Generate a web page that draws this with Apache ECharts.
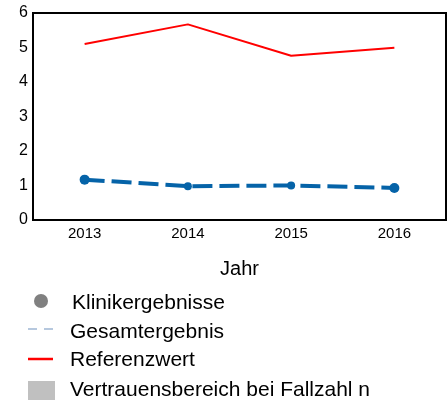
<!DOCTYPE html>
<html>
<head>
<meta charset="utf-8">
<title>Klinikergebnisse</title>
<script src="https://cdn.jsdelivr.net/npm/echarts@6/dist/echarts.min.js"></script>
<style>
  html, body { margin: 0; padding: 0; background: #fff; }
  #chart { width: 448px; height: 402px; }
</style>
</head>
<body>
<div id="chart"></div>
<script>
// Daten
var jahre = ['2013', '2014', '2015', '2016'];
var klinikergebnisse = [1.17, 0.98, 1.0, 0.93];
var referenzwert = [5.1, 5.67, 4.76, 4.99];
var yTicks = [0, 1, 2, 3, 4, 5, 6];
var legendeText = ['Klinikergebnisse', 'Gesamtergebnis', 'Referenzwert', 'Vertrauensbereich bei Fallzahl n'];

var chart = echarts.init(document.getElementById('chart'));
var fontFamily = 'Liberation Sans, Arial, sans-serif';

// Legende als Grafik, Zeilen untereinander
function legendText(i, x, y) {
  return { type: 'text', x: x, y: y, style: { text: legendeText[i], fontSize: 21, fill: '#000', fontFamily: fontFamily, verticalAlign: 'middle' } };
}

var option = {
  animation: false,
  textStyle: { fontFamily: fontFamily },
  grid: {
    left: 33, right: 2, top: 13, bottom: 182,
    show: true, borderColor: '#000', borderWidth: 2, backgroundColor: 'transparent'
  },
  xAxis: {
    type: 'category',
    data: jahre,
    boundaryGap: true,
    name: 'Jahr',
    nameLocation: 'middle',
    nameGap: 39,
    nameTextStyle: { color: '#000', fontSize: 20, fontFamily: fontFamily },
    axisLine: { lineStyle: { color: '#000', width: 2 } },
    axisTick: { show: false },
    axisLabel: { color: '#000', fontSize: 15, margin: 6, fontFamily: fontFamily },
    splitLine: { show: false }
  },
  yAxis: {
    type: 'value',
    min: yTicks[0],
    max: yTicks[yTicks.length - 1],
    interval: 1,
    axisLine: { show: true, lineStyle: { color: '#000', width: 2 } },
    axisTick: { show: false },
    axisLabel: { color: '#000', fontSize: 16, margin: 5, fontFamily: fontFamily },
    splitLine: { show: false }
  },
  series: [
    {
      name: 'Referenzwert',
      type: 'line',
      data: referenzwert,
      showSymbol: false,
      lineStyle: { color: '#ff0000', width: 2 },
      z: 2
    },
    {
      name: 'Klinikergebnisse',
      type: 'line',
      data: klinikergebnisse,
      symbol: 'circle',
      symbolSize: function (v, p) { return (p.dataIndex === 0 || p.dataIndex === 3) ? 10 : 8; },
      itemStyle: { color: '#0563a8' },
      lineStyle: { color: '#0563a8', width: 4, type: [20, 7] },
      z: 3
    }
  ],
  graphic: [
    { type: 'circle', shape: { cx: 41, cy: 301, r: 7 }, style: { fill: '#808080' } },
    legendText(0, 72, 303),
    { type: 'line', shape: { x1: 28, y1: 329, x2: 53, y2: 329 }, style: { stroke: '#9fb6d3', lineWidth: 1.5, lineDash: [9, 7] } },
    legendText(1, 70, 332),
    { type: 'line', shape: { x1: 28, y1: 359, x2: 53, y2: 359 }, style: { stroke: '#ff0000', lineWidth: 2.5 } },
    legendText(2, 70, 360),
    { type: 'rect', shape: { x: 28, y: 381, width: 27, height: 19 }, style: { fill: '#c0c0c0' } },
    legendText(3, 70, 390)
  ]
};

chart.setOption(option);
window.onresize = chart.resize;
</script>
</body>
</html>
